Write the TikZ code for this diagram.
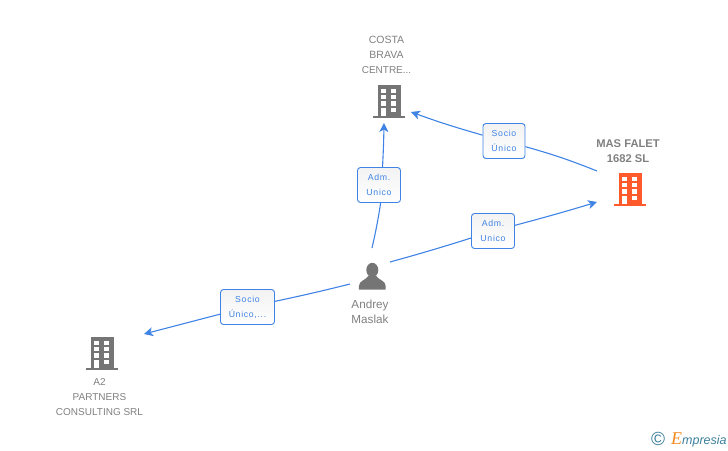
\documentclass[tikz,border=0pt]{standalone}
\usepackage{fontspec}
\setmainfont{Liberation Sans}
\newfontfamily\relfont[LetterSpace=8]{Liberation Sans}
\newfontfamily\logofont{Liberation Serif}
\usepackage{tikz}
\usetikzlibrary{arrows.meta}
\definecolor{linkblue}{HTML}{3F83E4}
\definecolor{icongray}{HTML}{757575}
\definecolor{iconred}{HTML}{FF5A2B}
\definecolor{namegray}{HTML}{808080}
\definecolor{logoteal}{HTML}{3C7F9C}
\definecolor{logoorange}{HTML}{F28A1E}
\tikzstyle{relation} = [rectangle, rounded corners=3pt, draw=linkblue, line width=0.9pt, top color=black!5, bottom color=white, text=linkblue, minimum height=35pt, align=center, inner sep=0pt, font=\relfont\fontsize{8.7}{15}\selectfont]
\tikzstyle{nametext} = [align=center, inner sep=0pt, text=namegray, font=\fontsize{10}{15}\selectfont]
\tikzstyle{boldtext} = [nametext, font=\bfseries\fontsize{11.2}{15}\selectfont]
\tikzstyle{icon} = [rectangle, inner sep=0pt, minimum width=32pt, minimum height=34pt]
\tikzstyle{arrow} = [line width=1.1pt, draw=linkblue, ->, >={Stealth[length=9pt,width=9pt,inset=2.5pt]}]
\tikzstyle{link} = [line width=1.1pt, draw=linkblue]
\tikzset{
  building/.pic={
    \fill (-11.5,0) rectangle (11.5,-33.7);
    \fill (-16,0) rectangle (16,-2.7);
    \foreach \row in {-25.4,-19,-12.7}{
      \fill[white] (-7.8,\row) rectangle (-2.8,\row-4.3);
      \fill[white] (2.4,\row) rectangle (7.4,\row-4.3);
    }
    \fill[white] (-7.8,-2.7) rectangle (-2.8,-10.4);
    \fill[white] (2.4,-6) rectangle (7.4,-10.4);
  },
  person/.pic={
    \fill (0,19.5) ellipse (6pt and 7.2pt);
    \fill (-13.4,0) -- (13.4,0) -- (13.4,3.5) .. controls (13.4,9) and (6,9.5) .. (3.5,14)
      -- (-3.5,14) .. controls (-6,9.5) and (-13.4,9) .. (-13.4,3.5) -- cycle;
  }
}

\begin{document}
\begin{tikzpicture}[x=1pt, y=-1pt]
\useasboundingbox (0,0) rectangle (728,450);

% icons
\node(costa)        [icon] at (389,101)                 {};
\node(masfalet)     [icon] at (630,189)                 {};
\node(atwo)         [icon] at (102,353)                 {};
\node(andrey)       [icon] at (372,276)                 {};
\pic[icongray] at (costa.south)    {building};
\pic[iconred]  at (masfalet.south) {building};
\pic[icongray] at (atwo.south)     {building};
\pic[icongray, yscale=-1] at (372.3,289.5) {person};

% names
\node(costaname)    [nametext] at (386.5,55)            {\fontsize{10.5}{15}\selectfont COSTA\\\fontsize{10.5}{15}\selectfont BRAVA\\CENTRE...};
\node(masfaletname) [boldtext] at (628,151.5)           {MAS FALET\\1682 SL};
\node(atwoname)     [nametext] at (99.5,397)            {A2\\PARTNERS\\CONSULTING SRL};
\node(andreyname)   [nametext, font=\fontsize{11.7}{15}\selectfont] at (370,311.5) {Andrey\\Maslak};

% relations
\node(socioone)     [relation, minimum width=42pt] at (504,141)   {Socio\\Único};
\node(admone)       [relation, minimum width=43pt] at (379,185)   {Adm.\\Unico};
\node(admtwo)       [relation, minimum width=43pt] at (493,231)   {Adm.\\Unico};
\node(sociotwo)     [relation, minimum width=54pt] at (247.5,307) {Socio\\Único,...};

% free ends
\coordinate (costabelow)  at (384,123);
\coordinate (costaright)  at (411,112);
\coordinate (masleft)     at (597,202);
\coordinate (masupper)    at (597,171);
\coordinate (atwoupper)   at (144,334);
\coordinate (andreyup)    at (372,248);
\coordinate (andreyright) at (390,262);
\coordinate (andreyleft)  at (350,284);
\coordinate (admonetop)   at (382.5,167.5);
\coordinate (admonebottom) at (380.7,202.5);

\draw [link]  (andreyup)    to[bend right=2] (admonebottom);
\draw [arrow] (admonetop)   to[bend right=1] (costabelow);
\draw [link]  (masupper)    to[bend right=3] (socioone);
\draw [arrow] (socioone)    to[bend left=2] (costaright);
\draw [link]  (andreyright) to[bend right=1] (admtwo);
\draw [arrow] (admtwo)      to[bend right=1] (masleft);
\draw [link]  (andreyleft)  to[bend left=1] (sociotwo);
\draw [arrow] (sociotwo)    -- (atwoupper);

% logo
\node(copyright) [inner sep=0pt, text=logoteal, font=\fontsize{19}{19}\selectfont] at (658,438.7) {©};
\node(logo) [anchor=base west, inner sep=0pt, text=logoteal, font=\itshape\fontsize{12.5}{13}\selectfont] at (671,444) {\textcolor{logoorange}{\logofont\fontsize{18}{18}\selectfont E}mpresia};

\end{tikzpicture}
\end{document}
